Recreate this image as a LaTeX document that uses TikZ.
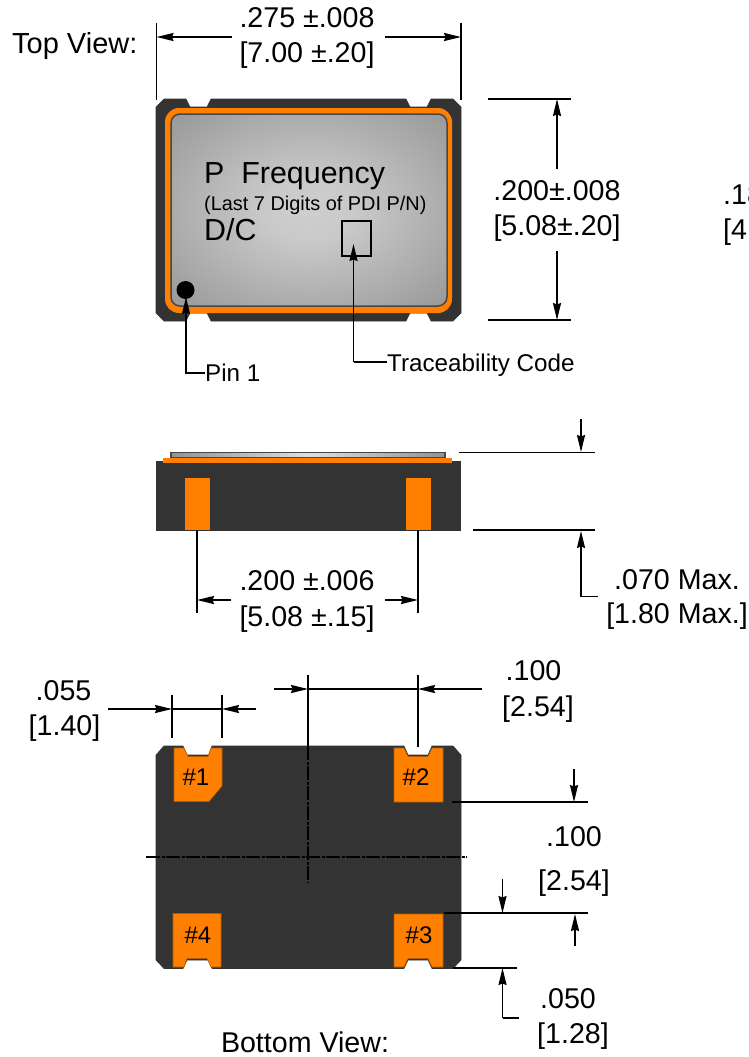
\documentclass[tikz,border=0pt]{standalone}
\usepackage{fontspec}
\usetikzlibrary{arrows.meta}
\setmainfont{Liberation Sans}
\definecolor{bodydark}{RGB}{51,51,51}
\definecolor{padorange}{RGB}{255,128,0}
\pgfdeclareradialshading{lidglow}{\pgfpoint{0bp}{0bp}}{color(0bp)=(gray!38); color(8bp)=(gray!42); color(35bp)=(gray!80); color(50bp)=(gray!105!black); color(100bp)=(gray!105!black)}
\tikzset{
    dimtext/.style = {anchor = base, inner sep = 0pt, font = \fontsize{28.6}{30}\selectfont},
    sidetext/.style = {anchor = base west, inner sep = 0pt, font = \fontsize{24.2}{26}\selectfont},
    padtext/.style = {anchor = base, inner sep = 0pt, font = \fontsize{24}{26}\selectfont},
    dimline/.style = {line width = 1.7pt},
    centerline/.style = {line width = 1.7pt, dash pattern = on 14pt off 1.5pt on 3pt off 1.5pt},
    pad/.style = {fill = padorange, draw = padorange!70!black, line width = 0.6pt},
    pkg/.style = {fill = bodydark, draw = bodydark, line width = 0.6pt}
}

\begin{document}
\begin{tikzpicture}[x = 1pt, y = -1pt, > = {Stealth[length = 17pt, width = 8pt, inset = 1.5pt]}]
            \useasboundingbox (0, 0) rectangle (749, 1057);

            \draw[pkg] (156, 107) -- (164, 99) -- (186, 99) -- (190, 107) -- (207, 107) -- (211, 99)
                -- (406, 99) -- (410, 107) -- (427, 107) -- (431, 99) -- (453, 99) -- (461, 107)
                -- (461, 313) -- (453, 321) -- (431, 321) -- (427, 313) -- (410, 313) -- (406, 321)
                -- (211, 321) -- (207, 313) -- (190, 313) -- (186, 321) -- (164, 321) -- (156, 313) -- cycle;
            \fill[padorange, rounded corners = 14pt] (165, 108) rectangle (452, 313);
            \shade[shading = lidglow, rounded corners = 9pt] (171, 114) rectangle (447, 306);
            \draw[bodydark!90, line width = 1.5pt, rounded corners = 9pt] (171, 114) rectangle (447, 306);
            \draw[line width = 1.5pt] (342, 221) rectangle (371, 256);
            \fill (185.5, 290) circle (9);

            \draw (204, 183) node[anchor = base west, inner sep = 0pt, font = \fontsize{30.4}{32}\selectfont] (freqmark) {P\ \ Frequency};
            \draw (204, 210) node[anchor = base west, inner sep = 0pt, font = \fontsize{19.9}{22}\selectfont] (lastdigits) {(Last 7 Digits of PDI P/N)};
            \draw (204, 240) node[anchor = base west, inner sep = 0pt, font = \fontsize{30.4}{32}\selectfont] (datecode) {D/C};

            \draw (12, 54) node[anchor = base west, inner sep = 0pt, font = \fontsize{29}{30}\selectfont] (topview) {Top View:};
            \draw (307, 28) node[dimtext] (topwidthin) {.275 ±.008};
            \draw (307, 63) node[dimtext] (topwidthmm) {[7.00 ±.20]};
            \draw[dimline] (156.5, 23) -- (156.5, 100);
            \draw[dimline] (461, 23) -- (461, 100);
            \draw[dimline, ->] (232, 37) -- (156.5, 37);
            \draw[dimline, ->] (385, 37) -- (461, 37);

            \draw (557, 200) node[dimtext] (topheightin) {.200±.008};
            \draw (557, 235) node[dimtext] (topheightmm) {[5.08±.20]};
            \draw[dimline] (488, 99) -- (571, 99);
            \draw[dimline] (488, 320) -- (571, 320);
            \draw[dimline, ->] (557, 169) -- (557, 99);
            \draw[dimline, ->] (557, 251) -- (557, 320);

            \draw (723, 204) node[anchor = base west, inner sep = 0pt, font = \fontsize{28.6}{30}\selectfont] (cutin) {.18};
            \draw (723, 239) node[anchor = base west, inner sep = 0pt, font = \fontsize{28.6}{30}\selectfont] (cutmm) {[4};

            \draw[dimline, ->] (186, 374) -- (186, 297);
            \draw[dimline] (186, 373) -- (205, 373);
            \draw (205, 381) node[sidetext] (pinone) {Pin 1};
            \draw[dimline, ->] (353.5, 362) -- (353.5, 244);
            \draw[dimline] (353.5, 362) -- (387, 362);
            \draw (387, 371) node[sidetext] (tracecode) {Traceability Code};

            \shade[left color = gray!85, right color = gray!85, middle color = gray!25] (171, 452.5) rectangle (445, 458);
            \draw[bodydark!90, line width = 1.2pt] (171, 452.5) rectangle (445, 458);
            \fill[bodydark] (156, 461) rectangle (461, 530.5);
            \fill[padorange] (163, 458) rectangle (452, 463);
            \fill[padorange] (185, 478) rectangle (210, 529.5);
            \fill[padorange] (406, 478) rectangle (431, 529.5);

            \draw[dimline] (459, 452.5) -- (595, 452.5);
            \draw[dimline] (473, 530) -- (595, 530);
            \draw[dimline, ->] (581, 419) -- (581, 452);
            \draw[dimline, ->] (581, 597) -- (581, 531);
            \draw[dimline] (581, 596.5) -- (598, 596.5);
            \draw (677, 589) node[dimtext] (sideheightin) {.070 Max.};
            \draw (677, 623) node[dimtext] (sideheightmm) {[1.80 Max.]};

            \draw[dimline] (197, 530) -- (197, 613);
            \draw[dimline] (418, 530) -- (418, 613);
            \draw[dimline, ->] (231, 600) -- (197, 600);
            \draw[dimline, ->] (385, 600) -- (418, 600);
            \draw (307, 590) node[dimtext] (padspanin) {.200 ±.006};
            \draw (307, 626) node[dimtext] (padspanmm) {[5.08 ±.15]};

            \draw[pkg] (156, 755) -- (164, 746) -- (183, 746) -- (187, 755) -- (209, 755) -- (212, 746)
                -- (404, 746) -- (408, 755) -- (428, 755) -- (432, 746) -- (453, 746) -- (461, 755)
                -- (461, 960) -- (453, 968.5) -- (432, 968.5) -- (428, 960) -- (408, 960) -- (404, 968.5)
                -- (212, 968.5) -- (209, 960) -- (187, 960) -- (183, 968.5) -- (164, 968.5) -- (156, 960) -- cycle;

            \draw[pad] (174, 748) -- (184, 748) -- (188, 756.5) -- (208, 756.5) -- (211, 748) -- (222, 748)
                -- (222, 786) -- (209, 801.5) -- (174, 801.5) -- cycle;
            \draw[pad] (394, 748) -- (404, 748) -- (408, 756.5) -- (428, 756.5) -- (432, 748) -- (443, 748)
                -- (443, 802) -- (394, 802) -- cycle;
            \draw[pad] (394, 914) -- (443, 914) -- (443, 967) -- (432, 967) -- (428, 958.5) -- (408, 958.5)
                -- (404, 967) -- (394, 967) -- cycle;
            \draw[pad] (173, 913.5) -- (221, 913.5) -- (221, 967) -- (211, 967) -- (207, 958.5) -- (187, 958.5)
                -- (184, 967) -- (173, 967) -- cycle;
            \draw (196, 785) node[padtext] (padone) {\#1};
            \draw (416, 785) node[padtext] (padtwo) {\#2};
            \draw (419, 943) node[padtext] (padthree) {\#3};
            \draw (198, 943) node[padtext] (padfour) {\#4};

            \draw[dimline] (308, 675) -- (308, 746);
            \draw[centerline] (308, 746) -- (308, 882);
            \draw[centerline] (146, 857) -- (467, 857);

            \draw[dimline] (172, 695) -- (172, 738);
            \draw[dimline] (222, 695) -- (222, 738);
            \draw[dimline, ->] (108, 709) -- (172, 709);
            \draw[dimline, ->] (256, 709) -- (222, 709);
            \draw[dimline] (172, 709) -- (222, 709);
            \draw (63.5, 700) node[dimtext] (padwidthin) {.055};
            \draw (64.5, 735) node[dimtext] (padwidthmm) {[1.40]};

            \draw[dimline] (418, 675) -- (418, 747);
            \draw[dimline, ->] (274, 689) -- (308, 689);
            \draw[dimline, ->] (482, 689) -- (418, 689);
            \draw[dimline] (308, 689) -- (418, 689);
            \draw (533.5, 680) node[dimtext] (pitchxin) {.100};
            \draw (538, 716) node[dimtext] (pitchxmm) {[2.54]};

            \draw[dimline] (452, 802) -- (588, 802);
            \draw[dimline] (444, 913) -- (588, 913);
            \draw[dimline] (453, 968) -- (517, 968);
            \draw[dimline, ->] (574, 769) -- (574, 802);
            \draw[dimline, ->] (575, 946) -- (575, 914);
            \draw[dimline, ->] (502.5, 879) -- (502.5, 913);
            \draw[dimline, ->] (502.5, 1018) -- (502.5, 968);
            \draw[dimline] (502.5, 1018) -- (519, 1018);
            \draw (574, 846) node[dimtext] (pitchyin) {.100};
            \draw (574, 890) node[dimtext] (pitchymm) {[2.54]};
            \draw (568, 1008) node[dimtext] (padgapin) {.050};
            \draw (573, 1043) node[dimtext] (padgapmm) {[1.28]};

            \draw (305, 1052) node[dimtext] (bottomview) {Bottom View:};
        \end{tikzpicture}
\end{document}
